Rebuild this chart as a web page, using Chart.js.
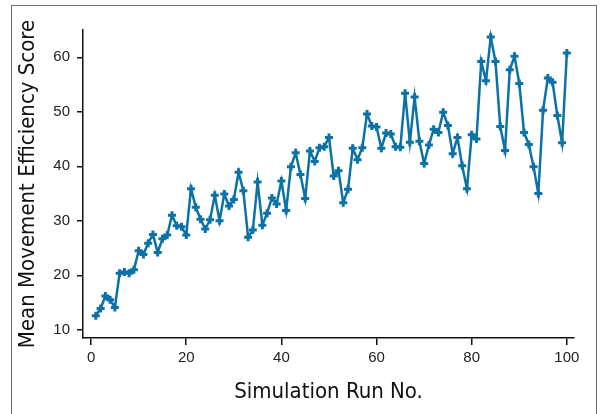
<!DOCTYPE html>
<html>
<head>
<meta charset="utf-8">
<script src="https://cdn.jsdelivr.net/npm/chart.js@4"></script>
<style>
    body { margin: 0; background: #fff; }
    #wrap { position: relative; width: 600px; height: 414px; overflow: hidden; }
    #frame { position: absolute; left: 11px; top: 5px; width: 584px; height: 430px; border: 1px solid #6e6e6e; }
    canvas { position: absolute; left: 0; top: 0; }
</style>
</head>
<body>
<div id="wrap">
    <div id="frame"></div>
    <canvas id="effChart" width="600" height="414"></canvas>
</div>
<script>
// simulation run numbers 1..100
const runs = [
    1, 2, 3, 4, 5, 6, 7, 8, 9, 10,
    11, 12, 13, 14, 15, 16, 17, 18, 19, 20,
    21, 22, 23, 24, 25, 26, 27, 28, 29, 30,
    31, 32, 33, 34, 35, 36, 37, 38, 39, 40,
    41, 42, 43, 44, 45, 46, 47, 48, 49, 50,
    51, 52, 53, 54, 55, 56, 57, 58, 59, 60,
    61, 62, 63, 64, 65, 66, 67, 68, 69, 70,
    71, 72, 73, 74, 75, 76, 77, 78, 79, 80,
    81, 82, 83, 84, 85, 86, 87, 88, 89, 90,
    91, 92, 93, 94, 95, 96, 97, 98, 99, 100
];

// mean movement efficiency score per run
const scores = [
    12.6, 13.9, 16.2, 15.5, 14.1, 20.4, 20.6, 20.4, 21.0, 24.5,
    23.8, 25.9, 27.5, 24.2, 26.7, 27.4, 31.0, 29.1, 28.9, 27.4,
    35.9, 32.5, 30.3, 28.5, 30.2, 34.7, 30.0, 34.9, 32.7, 33.9,
    38.9, 35.5, 27.0, 28.3, 37.1, 29.2, 31.4, 34.2, 33.1, 37.3,
    31.9, 39.9, 42.5, 38.5, 34.1, 42.8, 40.9, 43.4, 43.6, 45.3,
    38.2, 39.2, 33.3, 35.8, 43.3, 41.2, 43.4, 49.6, 47.4, 47.2,
    43.3, 46.1, 45.9, 43.6, 43.5, 53.4, 44.4, 52.7, 44.6, 40.5,
    43.9, 46.8, 46.2, 49.9, 47.5, 42.3, 45.3, 40.1, 35.9, 45.8,
    45.0, 59.2, 55.7, 63.7, 59.2, 47.3, 42.9, 57.7, 60.2, 55.2,
    46.2, 44.0, 39.9, 35.0, 50.3, 56.2, 55.4, 49.3, 44.3, 60.8
];

const xTicks = [0, 20, 40, 60, 80, 100];
const yTicks = [10, 20, 30, 40, 50, 60];

const lineColor = '#0b72a7';
const tickFont = { family: "'Liberation Sans', Arial, sans-serif", size: 15 };
const titleFont = { family: "'DejaVu Sans Condensed', sans-serif", size: 22 };

const points = runs.map((r, i) => ({ x: r, y: scores[i] }));

new Chart(document.getElementById('effChart'), {
    type: 'line',
    data: {
        datasets: [{
            data: points,
            borderColor: lineColor,
            borderWidth: 2.5,
            pointStyle: 'cross',
            pointRadius: 4,
            pointBorderWidth: 3,
            pointBorderColor: lineColor,
            pointBackgroundColor: lineColor,
            tension: 0
        }]
    },
    options: {
        responsive: false,
        animation: false,
        layout: { padding: { left: 0, right: 26, top: 30, bottom: 0 } },
        plugins: {
            legend: { display: false },
            tooltip: { enabled: false }
        },
        scales: {
            x: {
                type: 'linear',
                min: -1.7,
                max: 101.5,
                afterBuildTicks: (axis) => { axis.ticks = xTicks.map(v => ({ value: v })); },
                afterFit: (axis) => { axis.height = 76; },
                grid: { display: true, drawOnChartArea: false, drawTicks: true, tickLength: 7, color: '#111', lineWidth: 1.5 },
                border: { display: true, color: '#111', width: 1.5 },
                ticks: { color: '#222', font: tickFont, padding: 4, maxRotation: 0 },
                title: { display: true, text: 'Simulation Run No.', color: '#111', font: titleFont, padding: { top: 0, bottom: 9 } }
            },
            y: {
                min: 8.5,
                max: 65,
                afterBuildTicks: (axis) => { axis.ticks = yTicks.map(v => ({ value: v })); },
                afterFit: (axis) => { axis.width = 83; },
                grid: { display: true, drawOnChartArea: false, drawTicks: true, tickLength: 6, color: '#111', lineWidth: 1.5 },
                border: { display: true, color: '#111', width: 1.5 },
                ticks: { color: '#222', font: tickFont, padding: 7 },
                title: { display: true, text: 'Mean Movement Efficiency Score', color: '#111', font: titleFont, padding: { top: 15, bottom: 0 } }
            }
        }
    }
});
</script>
</body>
</html>
